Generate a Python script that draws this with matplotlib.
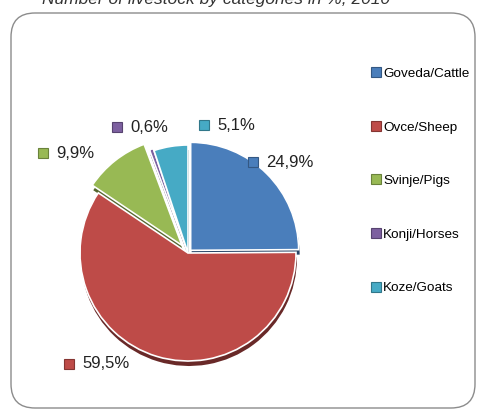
"""Livestock by category, pie chart with legend."""

import matplotlib.pyplot as plt
from matplotlib.colors import to_rgb
from matplotlib.patches import FancyBboxPatch

CATEGORIES = ["Goveda/Cattle", "Ovce/Sheep", "Svinje/Pigs", "Konji/Horses", "Koze/Goats"]
SHARES = [24.9, 59.5, 9.9, 0.6, 5.1]
SHARE_LABELS = ["24,9%", "59,5%", "9,9%", "0,6%", "5,1%"]
COLORS = ["#4a7ebb", "#be4b48", "#98b954", "#7d60a0", "#46aac5"]
EXPLODE = [0.035, 0.0, 0.09, 0.02, 0.0]
TITLE = "Number of livestock by categories in %, 2010"

FONT = ["Liberation Sans Narrow", "Liberation Sans", "DejaVu Sans"]
W, H = 480, 412
CENTER = (188, 412 - 253)
RADIUS = 108
# label anchor positions (pixels, y up)
LABEL_POS = [(253, 412 - 162), (69, 412 - 364), (43, 412 - 153), (117, 412 - 127), (204, 412 - 125)]


def darker(color, f=0.55):
    r, g, b = to_rgb(color)
    return (r * f, g * f, b * f)


def main() -> None:
    fig = plt.figure(figsize=(W / 100, H / 100), dpi=100)
    ax = fig.add_axes([0, 0, 1, 1])

    frame = FancyBboxPatch((11, 4), 464, 395, boxstyle="round,pad=0,rounding_size=24",
                           fc="white", ec="#8c8c8c", lw=1.0, zorder=0)
    ax.add_patch(frame)

    ax.text(216, 412 - 4, TITLE, ha="center", va="baseline", style="italic",
            fontsize=12.5, color="#333333", family=FONT)

    explode = [e * RADIUS for e in EXPLODE]
    # shadow layer for the 3d look
    ax.pie(SHARES, colors=[darker(c) for c in COLORS], explode=explode, startangle=90,
           counterclock=False, center=(CENTER[0] + 1, CENTER[1] - 5), radius=RADIUS,
           wedgeprops={"linewidth": 0}, frame=True)
    ax.pie(SHARES, colors=COLORS, explode=explode, startangle=90,
           counterclock=False, center=CENTER, radius=RADIUS,
           wedgeprops={"linewidth": 1.2, "edgecolor": "white"}, frame=True)
    ax.set_xlim(0, W)
    ax.set_ylim(0, H)
    ax.axis("off")

    for (x, y), text, color in zip(LABEL_POS, SHARE_LABELS, COLORS, strict=True):
        ax.plot(x, y, marker="s", ms=7, mfc=color, mec=darker(color, 0.7), mew=0.8, zorder=5)
        ax.text(x + 13, y, text, va="center", ha="left", fontsize=12,
                color="#222222", family=FONT, zorder=5)

    handles = [plt.Line2D([], [], ls="none", marker="s", ms=6.5, mfc=c, mec=darker(c, 0.7), mew=0.8)
               for c in COLORS]
    ax.legend(handles, CATEGORIES, loc="upper left", bbox_to_anchor=(365 / W, (412 - 61) / H),
              frameon=False, handlelength=0.7, handletextpad=0.15, labelspacing=3.05,
              borderpad=0, prop={"family": FONT, "size": 9.7})

    fig.savefig("out.png", dpi=100)


if __name__ == "__main__":
    main()
